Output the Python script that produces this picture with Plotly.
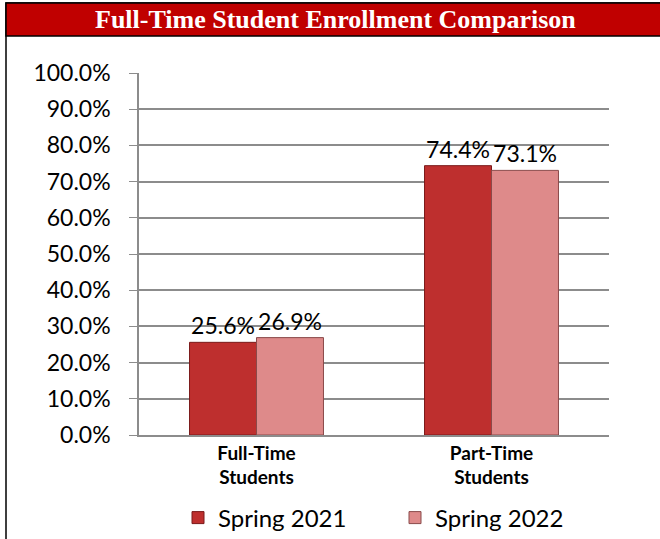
import plotly.graph_objects as go

# ------------------ Data ------------------
categories = ["Full-Time<br>Students", "Part-Time<br>Students"]
spring_2021 = [25.6, 74.4]
spring_2022 = [26.9, 73.1]
series_names = ["Spring 2021", "Spring 2022"]
chart_title = "Full-Time Student Enrollment Comparison"

# ------------------ Layout geometry (px) ------------------
W, H = 660, 539
L, R, T, B = 139, 51, 73, 104
pw, ph = W - L - R, H - T - B


def px_x(x):
    return (x - L) / pw


def px_y(y):
    return (H - B - y) / ph


fig = go.Figure()

fig.add_trace(go.Bar(
    x=categories, y=spring_2021, name=series_names[0],
    marker=dict(color="#BE2F2E", line=dict(color="#7A1A1A", width=1)),
    texttemplate="%{y:.1f}%", textposition="outside", cliponaxis=False,
    textfont=dict(family="Lato", size=23, color="black"),
))
fig.add_trace(go.Bar(
    x=categories, y=spring_2022, name=series_names[1],
    marker=dict(color="#DE8A8A", line=dict(color="#8A4A4A", width=1)),
    texttemplate="%{y:.1f}%", textposition="outside", cliponaxis=False,
    textfont=dict(family="Lato", size=23, color="black"),
))

# title bar and outer border
fig.add_shape(type="rect", xref="paper", yref="paper",
              x0=px_x(6), x1=px_x(W + 10), y0=px_y(H + 10), y1=px_y(3),
              line=dict(color="black", width=1.5), fillcolor="rgba(0,0,0,0)", layer="below")
fig.add_shape(type="rect", xref="paper", yref="paper",
              x0=px_x(6), x1=px_x(W + 10), y0=px_y(36), y1=px_y(3),
              line=dict(color="black", width=1.5), fillcolor="#C00000", layer="below")
fig.add_annotation(text="<b>" + chart_title + "</b>", xref="paper", yref="paper",
                   x=px_x(335), y=px_y(20), xanchor="center", yanchor="middle",
                   showarrow=False,
                   font=dict(family="Liberation Serif", size=26, color="white"))

fig.update_layout(
    width=W, height=H,
    margin=dict(l=L, r=R, t=T, b=B, autoexpand=False),
    paper_bgcolor="white", plot_bgcolor="white",
    barmode="group", bargap=0.43, bargroupgap=0,
    showlegend=True,
    legend=dict(orientation="h", x=px_x(178), xanchor="left",
                y=px_y(518), yanchor="middle",
                font=dict(family="Lato", size=24, color="black"),
                entrywidth=172, entrywidthmode="pixels",
                tracegroupgap=0),
    xaxis=dict(showline=True, linecolor="#8C8C8C", linewidth=1.5, ticks="",
               tickfont=dict(family="Lato", size=19, color="black", weight="bold")),
    yaxis=dict(range=[0, 100], dtick=10, tickformat=".1f", ticksuffix="%",
               showgrid=True, gridcolor="#8C8C8C", gridwidth=1.5,
               showline=True, linecolor="#8C8C8C", linewidth=1.5,
               ticks="outside", ticklen=8, tickcolor="#8C8C8C",
               ticklabelstandoff=14, zeroline=False,
               tickfont=dict(family="Lato", size=23, color="black")),
)

fig.write_html("out.html", config={"displayModeBar": False},
               post_script="document.body.style.margin='0';")
